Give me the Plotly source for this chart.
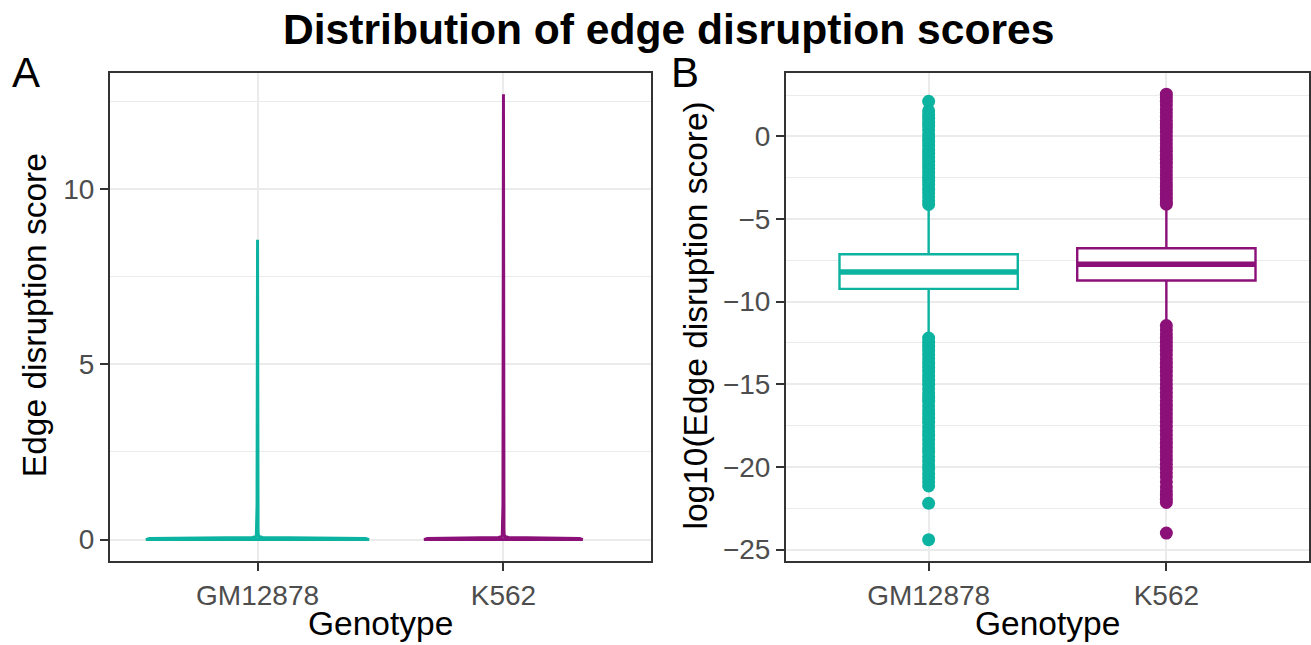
import plotly.graph_objects as go

# ---------------- data ----------------
genotypes = ["GM12878", "K562"]
colors = ["#0CB3A0", "#8B1078"]

# Panel A: violin outline (score level, half-width in category units)
gm_violin_y = [0.0, 0.03, 0.06, 0.09, 0.15, 0.3, 1.0, 8.55]
gm_violin_hw = [0.454, 0.44, 0.02, 0.005, 0.003, 0.002, 0.002, 0.0]
k5_violin_y = [0.0, 0.03, 0.06, 0.09, 0.15, 0.3, 1.0, 12.7]
k5_violin_hw = [0.323, 0.31, 0.02, 0.005, 0.003, 0.002, 0.002, 0.0]

# Panel B: boxplot statistics of log10(score)
box_q1 = [-9.23, -8.72]
box_median = [-8.21, -7.73]
box_q3 = [-7.13, -6.77]
box_lowerfence = [-12.0, -11.3]
box_upperfence = [-4.3, -4.25]

gm_outliers = [2.12, 1.55, 1.32, 1.1, 0.85, 0.62, 0.4, 0.15, -0.08, -0.3, -0.55, -0.8,
               -1.02, -1.27, -1.5, -1.75, -1.98, -2.22, -2.47, -2.7, -2.95, -3.2,
               -3.42, -3.66, -3.9, -4.12,
               -12.2, -12.45, -12.7, -12.95, -13.2, -13.45, -13.72, -13.98, -14.22,
               -14.5, -14.75, -15.0, -15.27, -15.52, -15.78, -16.02, -16.3, -16.55,
               -16.8, -17.05, -17.3, -17.58, -17.82, -18.08, -18.35, -18.6, -18.85,
               -19.1, -19.37, -19.62, -19.88, -20.13, -20.4, -20.65, -20.9, -21.15,
               -22.2, -24.4]
k5_outliers = [2.55, 2.35, 2.12, 1.9, 1.66, 1.43, 1.2, 0.96, 0.72, 0.5, 0.26, 0.03,
               -0.2, -0.44, -0.68, -0.9, -1.15, -1.38, -1.62, -1.85, -2.08, -2.32,
               -2.56, -2.8, -3.03, -3.27, -3.5, -3.74, -3.95, -4.1,
               -11.45, -11.7, -11.95, -12.2, -12.45, -12.7, -12.95, -13.2, -13.46,
               -13.72, -13.97, -14.22, -14.48, -14.73, -14.98, -15.24, -15.5, -15.75,
               -16.0, -16.26, -16.52, -16.77, -17.02, -17.28, -17.54, -17.8, -18.05,
               -18.3, -18.56, -18.82, -19.07, -19.32, -19.58, -19.84, -20.1, -20.35,
               -20.6, -20.9, -21.2, -21.45, -21.7, -21.95, -22.15,
               -24.0]

# ---------------- figure ----------------
FONT = "Liberation Sans, Arial, sans-serif"
W, H = 1311, 645
fig = go.Figure()

violins = [(gm_violin_y, gm_violin_hw), (k5_violin_y, k5_violin_hw)]
for i, (vy, hw) in enumerate(violins):
    xs = [i + h for h in hw] + [i - h for h in reversed(hw)] + [i + hw[0]]
    ys = list(vy) + list(reversed(vy)) + [vy[0]]
    fig.add_trace(go.Scatter(x=xs, y=ys, mode="lines", fill="toself", fillcolor="white",
                             line=dict(color=colors[i], width=3), xaxis="x", yaxis="y",
                             showlegend=False, hoverinfo="skip"))

box_width = 0.75
outliers = [gm_outliers, k5_outliers]
for i in range(2):
    fig.add_trace(go.Box(x=[i], q1=[box_q1[i]], median=[box_median[i]], q3=[box_q3[i]],
                         lowerfence=[box_lowerfence[i]], upperfence=[box_upperfence[i]],
                         width=box_width, fillcolor="white", boxpoints=False,
                         line=dict(color=colors[i], width=2.4), whiskerwidth=0,
                         xaxis="x2", yaxis="y2", showlegend=False))
    fig.add_trace(go.Scatter(x=[i - box_width / 2, i + box_width / 2],
                             y=[box_median[i], box_median[i]], mode="lines",
                             line=dict(color=colors[i], width=5.5),
                             xaxis="x2", yaxis="y2", showlegend=False))
    fig.add_trace(go.Scatter(x=[i] * len(outliers[i]), y=outliers[i], mode="markers",
                             marker=dict(color=colors[i], size=13, line=dict(width=0)),
                             xaxis="x2", yaxis="y2", showlegend=False))

axis_common = dict(showline=True, mirror=True, linecolor="#333333", linewidth=2,
                   ticks="outside", ticklen=8, tickwidth=2, tickcolor="#333333",
                   tickfont=dict(family=FONT, size=28, color="#4D4D4D"),
                   showgrid=True, gridcolor="#EBEBEB", gridwidth=2.4, zeroline=False)

xd1 = [110 / W, 651 / W]
xd2 = [786 / W, 1309 / W]
yd = [(H - 565) / H, (H - 73) / H]

fig.update_layout(
    width=W, height=H, margin=dict(l=0, r=0, t=0, b=0),
    paper_bgcolor="white", plot_bgcolor="white", boxmode="overlay",
    xaxis=dict(domain=xd1, range=[-0.6, 1.6], tickvals=[0, 1], ticktext=genotypes,
               anchor="y", **axis_common),
    yaxis=dict(domain=yd, range=[-0.625, 13.32], tickvals=[0, 5, 10], anchor="x",
               minor=dict(dtick=2.5, tick0=0, showgrid=True, gridcolor="#EBEBEB",
                          gridwidth=1.3, ticks=""),
               **axis_common),
    xaxis2=dict(domain=xd2, range=[-0.6, 1.6], tickvals=[0, 1], ticktext=genotypes,
                anchor="y2", **axis_common),
    yaxis2=dict(domain=yd, range=[-25.72, 3.86], tickvals=[0, -5, -10, -15, -20, -25],
                ticktext=["0", "\u22125", "\u221210", "\u221215", "\u221220", "\u221225"],
                anchor="x2",
                minor=dict(dtick=2.5, tick0=0, showgrid=True, gridcolor="#EBEBEB",
                           gridwidth=1.3, ticks=""),
                **axis_common),
)

ann = [
    dict(text="Distribution of edge disruption scores", x=668 / W, y=1 - 28.8 / H,
         xanchor="center", yanchor="middle", font=dict(size=42.6, weight="bold", color="black")),
    dict(text="A", x=10 / W, y=1 - 73.1 / H, xanchor="left", yanchor="middle",
         font=dict(size=42, color="black")),
    dict(text="B", x=669 / W, y=1 - 73.1 / H, xanchor="left", yanchor="middle",
         font=dict(size=42, color="black")),
    dict(text="Edge disruption score", x=34.6 / W, y=1 - 317.5 / H, textangle=-90,
         xanchor="center", yanchor="middle", font=dict(size=33.5, color="black")),
    dict(text="log10(Edge disruption score)", x=696 / W, y=1 - 317.5 / H, textangle=-90,
         xanchor="center", yanchor="middle", font=dict(size=33.5, color="black")),
    dict(text="Genotype", x=380.5 / W, y=1 - 627.5 / H, xanchor="center", yanchor="middle",
         font=dict(size=33.5, color="black")),
    dict(text="Genotype", x=1047.5 / W, y=1 - 627.5 / H, xanchor="center", yanchor="middle",
         font=dict(size=33.5, color="black")),
]
for a in ann:
    a.update(xref="paper", yref="paper", showarrow=False)
    a["font"]["family"] = FONT
fig.update_layout(annotations=ann)

fig.write_html(
    "out.html",
    config={"displayModeBar": False},
    post_script="document.body.style.margin='0';document.body.style.padding='0';"
                "document.body.style.overflow='hidden';",
)
